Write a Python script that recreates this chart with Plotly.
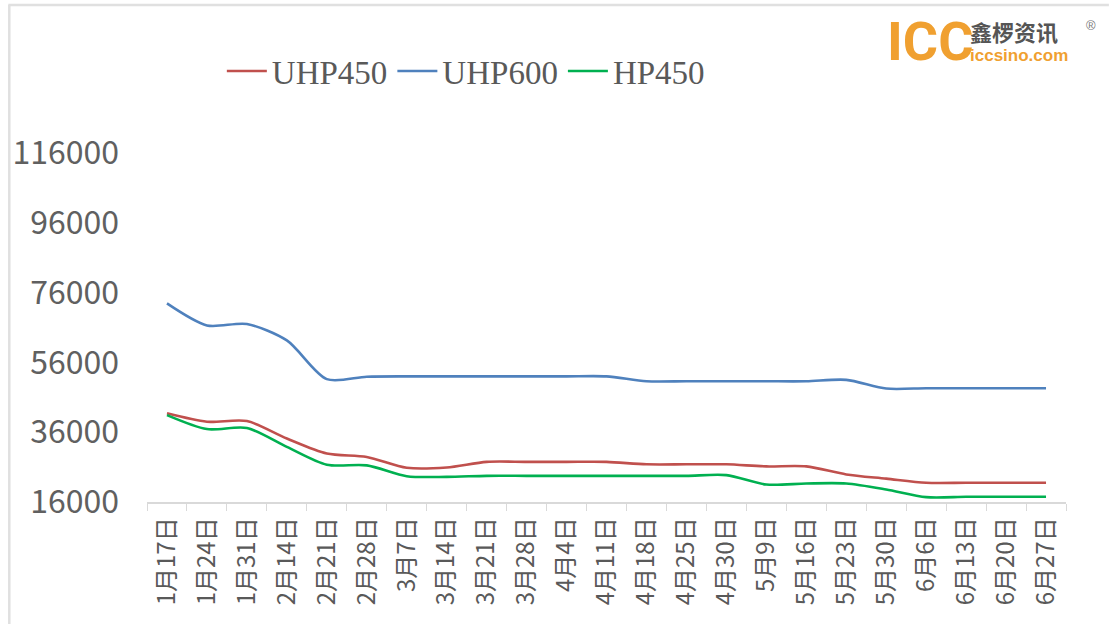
import plotly.graph_objects as go

# ---- data ----
dates = ["1月17日", "1月24日", "1月31日", "2月14日", "2月21日", "2月28日", "3月7日",
         "3月14日", "3月21日", "3月28日", "4月4日", "4月11日", "4月18日", "4月25日",
         "4月30日", "5月9日", "5月16日", "5月23日", "5月30日", "6月6日", "6月13日",
         "6月20日", "6月27日"]
uhp450 = [41400, 39000, 39200, 34200, 29900, 28900, 25800, 25900, 27500, 27500, 27500, 27500,
          26800, 26800, 26800, 26200, 26200, 23900, 22700, 21500, 21500, 21500, 21500]
uhp600 = [72900, 66600, 67000, 62300, 51200, 51900, 52000, 52000, 52000, 52000, 52000, 52000,
          50600, 50600, 50600, 50600, 50600, 51000, 48500, 48600, 48600, 48600, 48600]
hp450 = [40900, 36900, 37200, 31800, 26700, 26500, 23400, 23200, 23500, 23500, 23500, 23500,
         23500, 23500, 23700, 21000, 21300, 21300, 19600, 17400, 17500, 17500, 17500]
y_ticks = [16000, 36000, 56000, 76000, 96000, 116000]

series = [("UHP450", uhp450, "#C0504D"),
          ("UHP600", uhp600, "#4F81BD"),
          ("HP450", hp450, "#00B050")]

W, H = 1109, 624
ML, MR, MT, MB = 145, 43, 153, 122
PW, PH = W - ML - MR, H - MT - MB


def px(x):
    return (x - ML) / PW


def py(y):
    return (H - MB - y) / PH


fig = go.Figure()
for name, vals, col in series:
    fig.add_trace(go.Scatter(x=dates, y=vals, name=name, mode="lines",
                             line=dict(color=col, width=2.6, shape="spline", smoothing=0.8)))

fig.update_layout(
    width=W, height=H,
    margin=dict(l=ML, r=MR, t=MT, b=MB),
    paper_bgcolor="white", plot_bgcolor="white",
    showlegend=True,
    legend=dict(orientation="h", x=px(220), y=py(71), xanchor="left", yanchor="middle",
                font=dict(family="Liberation Serif", size=33, color="#595959"),
                itemwidth=40, tracegroupgap=0, bgcolor="rgba(0,0,0,0)"),
    xaxis=dict(type="category", range=[-0.5, len(dates) - 0.5],
               showline=True, linecolor="#d9d9d9", linewidth=1.5,
               ticks="outside", tickson="boundaries", ticklen=7, tickcolor="#d9d9d9",
               tickangle=-90, showgrid=False, zeroline=False,
               tickfont=dict(family="Noto Sans CJK SC", size=24, color="#595959"),
               ticklabelstandoff=4),
    yaxis=dict(range=[16000, 116000], tickvals=y_ticks, ticktext=[str(v) for v in y_ticks],
               showline=False, showgrid=False, zeroline=False, ticks="",
               tickfont=dict(family="Noto Sans CJK SC", size=32, color="#606060"),
               ticklabelstandoff=27),
)

# chart frame (left and top borders)
fig.add_shape(type="line", xref="paper", yref="paper", x0=px(7), x1=px(7), y0=py(5), y1=py(624),
              line=dict(color="#e0e0e0", width=2.5))
fig.add_shape(type="line", xref="paper", yref="paper", x0=px(6), x1=px(1109), y0=py(5), y1=py(5),
              line=dict(color="#e0e0e0", width=2.5))

# logo
fig.add_annotation(text="<b>ICC</b>", xref="paper", yref="paper", x=px(885), y=py(42),
                   xanchor="left", yanchor="middle", showarrow=False,
                   font=dict(family="Roboto", size=54, color="#F0A030"))
fig.add_annotation(text="<b>鑫椤资讯</b>", xref="paper", yref="paper", x=px(968), y=py(31),
                   xanchor="left", yanchor="middle", showarrow=False,
                   font=dict(family="Noto Sans CJK SC", size=22, color="#555555"))
fig.add_annotation(text="<b>iccsino.com</b>", xref="paper", yref="paper", x=px(968), y=py(56),
                   xanchor="left", yanchor="middle", showarrow=False,
                   font=dict(family="Liberation Sans", size=17, color="#F0A030"))
fig.add_annotation(text="®", xref="paper", yref="paper", x=px(1091), y=py(25),
                   xanchor="center", yanchor="middle", showarrow=False,
                   font=dict(family="Liberation Sans", size=13, color="#777777"))

fig.write_html("out.html", config={"displayModeBar": False},
               post_script="document.body.style.margin='0';document.documentElement.style.overflow='hidden';")
